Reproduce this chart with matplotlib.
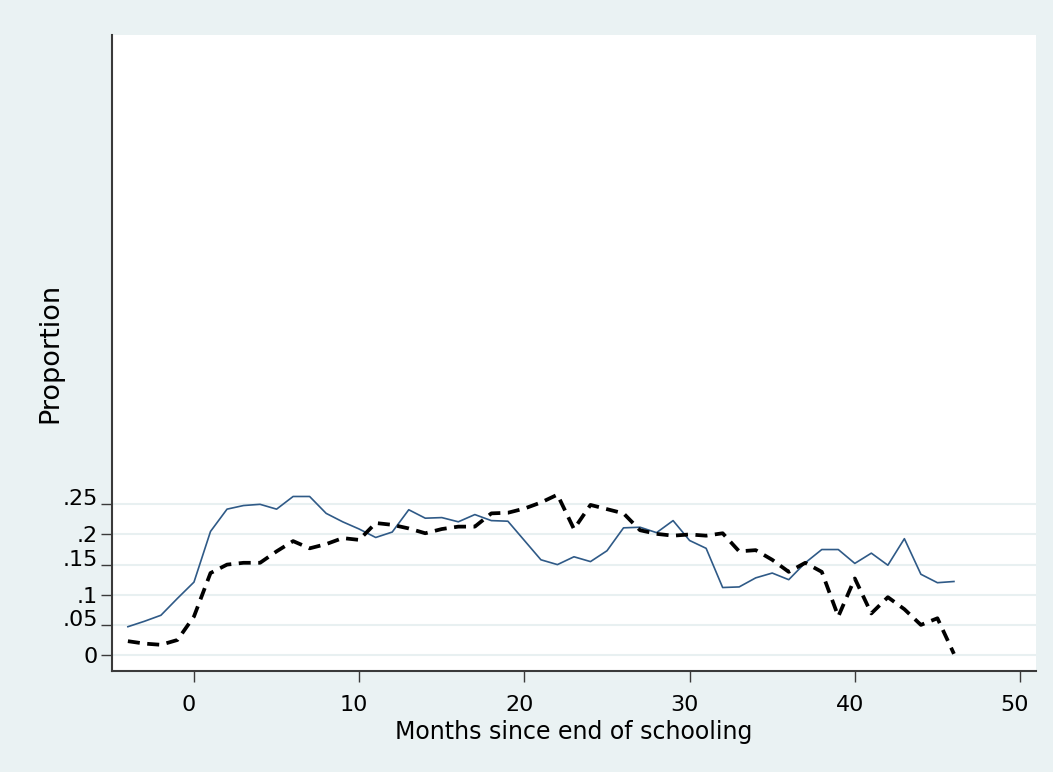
import matplotlib
matplotlib.use("Agg")
import matplotlib.pyplot as plt
import matplotlib.transforms as mtransforms
from matplotlib.ticker import FuncFormatter

months = list(range(-4, 47))

series_solid = [0.047, 0.056, 0.066, 0.094, 0.121, 0.205, 0.242, 0.248, 0.250,
                0.242, 0.263, 0.263, 0.235, 0.221, 0.209, 0.195, 0.204, 0.241,
                0.227, 0.228, 0.221, 0.233, 0.223, 0.222, 0.190, 0.158, 0.150,
                0.163, 0.155, 0.173, 0.211, 0.212, 0.203, 0.223, 0.190, 0.177,
                0.112, 0.113, 0.128, 0.136, 0.125, 0.153, 0.175, 0.175, 0.152,
                0.169, 0.149, 0.193, 0.134, 0.120, 0.122]

series_dashed = [0.023, 0.019, 0.017, 0.025, 0.064, 0.136, 0.150, 0.153, 0.153,
                 0.172, 0.189, 0.177, 0.184, 0.194, 0.191, 0.219, 0.216, 0.210,
                 0.202, 0.209, 0.213, 0.213, 0.235, 0.236, 0.243, 0.253, 0.266,
                 0.209, 0.249, 0.242, 0.235, 0.207, 0.201, 0.198, 0.200, 0.198,
                 0.202, 0.172, 0.174, 0.158, 0.138, 0.153, 0.138, 0.064, 0.127,
                 0.069, 0.096, 0.076, 0.050, 0.061, 0.002]

x_ticks = [0, 10, 20, 30, 40, 50]
y_ticks = [0, 0.05, 0.10, 0.15, 0.20, 0.25]
x_label = "Months since end of schooling"
y_label = "Proportion"

bg = "#EAF2F3"
fig = plt.figure(figsize=(10.53, 7.72), dpi=100, facecolor=bg)
ax = fig.add_axes([0.1064, 0.1308, 0.8775, 0.8239])
ax.set_facecolor("white")

ax.plot(months, series_solid, color="#2f5a87", lw=1.2, zorder=3)
ax.plot(months, series_dashed, color="black", lw=2.7,
        linestyle=(0, (3.2, 2.0)), zorder=3)

ax.set_xlim(-4.96, 50.97)
ax.set_ylim(-0.0265, 1.0285)
ax.set_xticks(x_ticks)
ax.set_yticks(y_ticks)

def yfmt(v, pos):
    s = ("%.2f" % v).rstrip("0").rstrip(".")
    if s.startswith("0."):
        s = s[1:]
    return s if s else "0"

ax.yaxis.set_major_formatter(FuncFormatter(yfmt))
ax.grid(axis="y", color="#E8F0F1", lw=1.5, zorder=0)
ax.grid(axis="x", visible=False)

for side in ["top", "right"]:
    ax.spines[side].set_visible(False)
for side in ["left", "bottom"]:
    ax.spines[side].set_color("#3a3a3a")
    ax.spines[side].set_linewidth(1.5)

ax.tick_params(axis="both", direction="out", length=8, width=1,
               color="#3a3a3a", labelsize=16, labelcolor="black")
ax.tick_params(axis="x", pad=9)
ax.tick_params(axis="y", pad=2)

ax.set_xlabel(x_label, fontsize=17, labelpad=4)
ax.set_ylabel(y_label, fontsize=19.5)
ax.yaxis.set_label_coords(-0.053, 0.5)

fig.canvas.draw()
# small label offsets as seen in the reference rendering
xshift = mtransforms.ScaledTranslation(-5 / 100, 0, fig.dpi_scale_trans)
for lbl in ax.get_xticklabels():
    lbl.set_transform(lbl.get_transform() + xshift)
for lbl in ax.get_yticklabels():
    if len(lbl.get_text()) == 3:
        up = mtransforms.ScaledTranslation(0, 7 / 100, fig.dpi_scale_trans)
        lbl.set_transform(lbl.get_transform() + up)

fig.savefig("out.png", dpi=100, facecolor=bg)
